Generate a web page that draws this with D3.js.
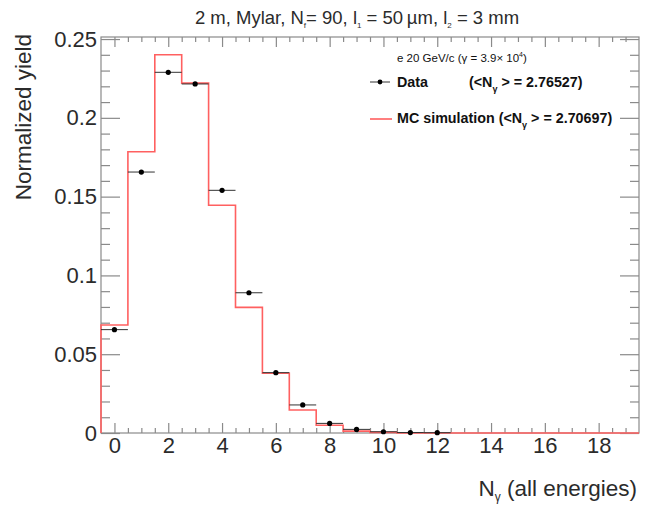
<!DOCTYPE html>
<html>
<head>
<meta charset="utf-8">
<script src="https://cdn.jsdelivr.net/npm/d3@7"></script>
<style>
  body { margin: 0; background: #fff; }
  svg { font-family: "Liberation Sans", Arial, sans-serif; }
</style>
</head>
<body>
<script>
// bin centres 0..19, data only up to 12
const dataYield = [0.0656, 0.1656, 0.2289, 0.2215, 0.1540, 0.0890, 0.0383, 0.0178, 0.0061, 0.0023, 0.0008, 0.0003, 0.0002];
const mcYield = [0.0685, 0.1785, 0.2400, 0.2220, 0.1445, 0.0797, 0.0379, 0.0146, 0.0049, 0.0012, 0.0004, 0.0001, 0, 0, 0, 0, 0, 0, 0, 0];
const xMajor = [0, 2, 4, 6, 8, 10, 12, 14, 16, 18];
const yMajor = [0, 0.05, 0.1, 0.15, 0.2, 0.25];
const yLabels = ["0", "0.05", "0.1", "0.15", "0.2", "0.25"];

const width = 647, height = 506;
const frame = { left: 101, right: 639, top: 37, bottom: 433 };

const svg = d3.select("body").append("svg")
    .attr("width", width).attr("height", height);

const x = d3.scaleLinear().domain([-0.5, 19.5]).range([frame.left, frame.right]);
const y = d3.scaleLinear().domain([0, 0.2513]).range([frame.bottom, frame.top]);

const xMinor = d3.range(0.5, 19.25, 0.5).filter(v => v % 2 !== 0);
const yMinor = d3.range(0.01, 0.251, 0.01).filter(v => Math.abs(v / 0.05 - Math.round(v / 0.05)) > 1e-6);

const axisColor = "#8a8a8a";
const textColor = "#2b2b2b";

// frame
svg.append("rect")
    .attr("x", frame.left).attr("y", frame.top)
    .attr("width", frame.right - frame.left).attr("height", frame.bottom - frame.top)
    .attr("fill", "none").attr("stroke", axisColor).attr("stroke-width", 1.2);

function styleAxis(g) {
    g.select(".domain").remove();
    g.selectAll(".tick line").attr("stroke", axisColor).attr("stroke-width", 1.2);
    g.selectAll(".tick text").attr("fill", textColor).attr("font-size", 22);
}

// bottom axis
svg.append("g").attr("transform", `translate(0,${frame.bottom})`)
    .call(d3.axisBottom(x).tickValues(xMinor).tickSize(-5).tickFormat(""))
    .call(styleAxis);
svg.append("g").attr("transform", `translate(0,${frame.bottom})`)
    .call(d3.axisBottom(x).tickValues(xMajor).tickSize(-10).tickPadding(4).tickFormat(d3.format("d")))
    .call(styleAxis);
// top axis (ticks only)
svg.append("g").attr("transform", `translate(0,${frame.top})`)
    .call(d3.axisTop(x).tickValues(xMinor).tickSize(-5).tickFormat(""))
    .call(styleAxis);
svg.append("g").attr("transform", `translate(0,${frame.top})`)
    .call(d3.axisTop(x).tickValues(xMajor).tickSize(-10).tickFormat(""))
    .call(styleAxis);

// left axis
svg.append("g").attr("transform", `translate(${frame.left},0)`)
    .call(d3.axisLeft(y).tickValues(yMinor).tickSize(-9).tickFormat(""))
    .call(styleAxis);
svg.append("g").attr("transform", `translate(${frame.left},0)`)
    .call(d3.axisLeft(y).tickValues(yMajor).tickSize(-19).tickPadding(4)
        .tickFormat((d, i) => yLabels[i]))
    .call(styleAxis);
// right axis
svg.append("g").attr("transform", `translate(${frame.right},0)`)
    .call(d3.axisRight(y).tickValues(yMinor).tickSize(-9).tickFormat(""))
    .call(styleAxis);
svg.append("g").attr("transform", `translate(${frame.right},0)`)
    .call(d3.axisRight(y).tickValues(yMajor).tickSize(-19).tickFormat(""))
    .call(styleAxis);

// MC histogram as a step outline
const mcPts = [[-0.5, 0]];
mcYield.forEach((v, i) => { mcPts.push([i - 0.5, v]); mcPts.push([i + 0.5, v]); });
mcPts.push([19.5, 0]);
svg.append("path")
    .datum(mcPts)
    .attr("d", d3.line().x(d => x(d[0])).y(d => y(d[1])))
    .attr("fill", "none")
    .attr("stroke", "#ff6060")
    .attr("stroke-width", 1.6);

// data points with bin-width bars
const pts = svg.append("g").selectAll("g").data(dataYield).enter().append("g");
pts.append("line")
    .attr("x1", (d, i) => x(i - 0.5)).attr("x2", (d, i) => x(i + 0.5))
    .attr("y1", d => y(d)).attr("y2", d => y(d))
    .attr("stroke", "#333").attr("stroke-width", 1);
pts.append("circle")
    .attr("cx", (d, i) => x(i)).attr("cy", d => y(d))
    .attr("r", 2.6).attr("fill", "#000");

// title
const title = svg.append("text")
    .attr("x", 357).attr("y", 24).attr("text-anchor", "middle")
    .attr("font-size", 18.5).attr("fill", textColor);
title.append("tspan").text("2 m, Mylar, N");
title.append("tspan").attr("font-size", 8).attr("dy", 4).text("f");
title.append("tspan").attr("dy", -4).text("= 90, l");
title.append("tspan").attr("font-size", 8).attr("dy", 4).text("1");
title.append("tspan").attr("dy", -4).text(" = 50\u2009\u00b5m, l");
title.append("tspan").attr("font-size", 8).attr("dy", 4).text("2");
title.append("tspan").attr("dy", -4).text(" = 3 mm");

// axis titles
svg.append("text")
    .attr("transform", `translate(31,${frame.top - 3}) rotate(-90)`)
    .attr("text-anchor", "end")
    .attr("font-size", 22.5).attr("fill", textColor)
    .text("Normalized yield");

const xt = svg.append("text")
    .attr("x", 637).attr("y", 496).attr("text-anchor", "end")
    .attr("font-size", 22.5).attr("fill", textColor);
xt.append("tspan").text("N");
xt.append("tspan").attr("font-size", 12).attr("dy", 5).text("\u03b3");
xt.append("tspan").attr("dy", -5).text(" (all energies)");

// legend
const leg = svg.append("g").attr("fill", "#111");
const head = leg.append("text").attr("x", 397).attr("y", 62).attr("font-size", 11.5);
head.append("tspan").text("e 20 GeV/c (\u03b3 = 3.9\u00d7 10");
head.append("tspan").attr("font-size", 7).attr("dy", -5).text("4");
head.append("tspan").attr("dy", 5).text(")");

leg.append("line").attr("x1", 370).attr("x2", 390).attr("y1", 82).attr("y2", 82)
    .attr("stroke", "#333").attr("stroke-width", 1);
leg.append("circle").attr("cx", 380).attr("cy", 82).attr("r", 2.4).attr("fill", "#000");
leg.append("text").attr("x", 397).attr("y", 87).attr("font-size", 14.3).attr("font-weight", "bold").text("Data");
const dl = leg.append("text").attr("x", 469).attr("y", 87).attr("font-size", 14.3).attr("font-weight", "bold");
dl.append("tspan").text("(<N");
dl.append("tspan").attr("font-size", 9).attr("dy", 5).text("\u03b3");
dl.append("tspan").attr("dy", -5).text(" > = 2.76527)");

leg.append("line").attr("x1", 370).attr("x2", 392).attr("y1", 119).attr("y2", 119)
    .attr("stroke", "#ff6060").attr("stroke-width", 1.6);
const ml = leg.append("text").attr("x", 397).attr("y", 123).attr("font-size", 14.3).attr("font-weight", "bold");
ml.append("tspan").text("MC simulation (<N");
ml.append("tspan").attr("font-size", 9).attr("dy", 5).text("\u03b3");
ml.append("tspan").attr("dy", -5).text(" > = 2.70697)");
</script>
</body>
</html>
